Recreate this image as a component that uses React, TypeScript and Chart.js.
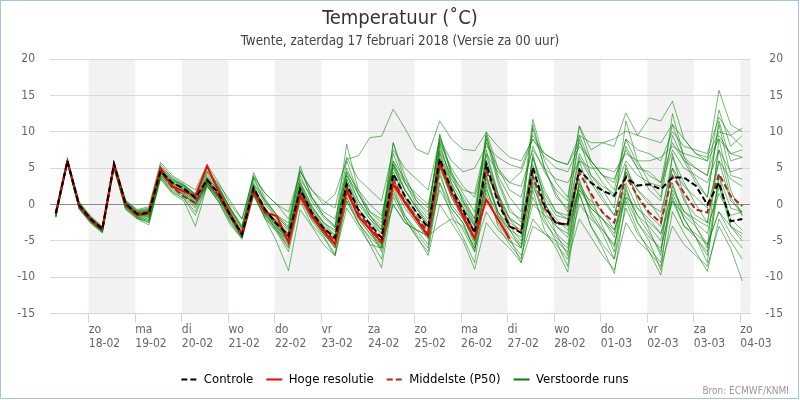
import React, { useEffect, useRef } from 'react';
import { Chart, registerables } from 'chart.js';

Chart.register(...registerables);

const FONT = '"DejaVu Sans Condensed", "DejaVu Sans", sans-serif';

// hours relative to zo 18-02 00:00 (local time)
const hours = [
  -17, -11, -5,
  1, 7, 13, 19, 25, 31, 37, 43, 49, 55, 61, 67,
  73, 79, 85, 91, 97, 103, 109, 115, 121, 127, 133, 139,
  145, 151, 157, 163, 169, 175, 181, 187, 193, 199, 205, 211,
  217, 223, 229, 235, 241, 247, 253, 259, 265, 271, 277, 283,
  289, 295, 301, 307, 313, 319, 325, 331, 337,
];

const dayNames = ['zo', 'ma', 'di', 'wo', 'do', 'vr', 'za', 'zo', 'ma', 'di', 'wo', 'do', 'vr', 'za', 'zo'];
const dayDates = ['18-02', '19-02', '20-02', '21-02', '22-02', '23-02', '24-02', '25-02', '26-02', '27-02', '28-02', '01-03', '02-03', '03-03', '04-03'];
const yTicks = [-15, -10, -5, 0, 5, 10, 15, 20];

const controle = [
  -1.2, 6.0, -0.1,
  -2.0, -3.4, 5.6, 0.1,
  -1.3, -1.2, 4.6, 3.0,
  2.2, 0.9, 3.4, 1.5,
  -1.5, -4.1, 2.3, -0.7,
  -2.7, -4.3, 2.1, -1.1,
  -3.2, -4.6, 2.8, -0.7,
  -2.7, -4.6, 4.2, 1.2,
  -1.1, -3.2, 6.3, 2.1,
  -0.7, -3.9, 5.6, 0.3,
  -3.0, -3.9, 5.1, -0.2,
  -2.6, -2.7, 4.8, 3.0,
  1.9, 1.2, 3.7, 2.6,
  2.8, 2.1, 3.7, 3.7,
  2.6, 0.0, 3.0, -2.3,
  -2.0,
];

const hogeResolutie = [
  -1.2, 6.0, 0.0,
  -2.0, -3.3, 5.6, 0.1,
  -1.5, -1.1, 5.0, 2.5,
  1.8, 1.2, 5.3, 1.8,
  -1.3, -4.1, 1.9, -1.1,
  -1.6, -5.2, 1.2, -1.6,
  -3.6, -5.5, 1.9, -1.6,
  -3.4, -5.2, 2.8, 0.3,
  -2.0, -4.3, 5.8, 1.6,
  -1.6, -4.6, 0.7, -2.0,
  -4.7,
];

const middelste = [
  -1.3, 5.9, -0.2,
  -2.2, -3.5, 5.4, -0.1,
  -1.3, -1.0, 4.6, 2.4,
  1.1, 0.2, 3.2, 1.2,
  -1.6, -4.0, 2.0, -0.9,
  -2.5, -4.4, 1.8, -1.3,
  -3.3, -5.0, 2.4, -1.2,
  -3.0, -4.9, 3.5, 0.4,
  -1.8, -3.8, 5.6, 1.6,
  -1.2, -3.6, 4.6, 1.0,
  -3.0, -3.6, 3.9, -0.5,
  -2.5, -2.7, 4.4, 1.5,
  -1.1, -2.5, 3.9, 1.2,
  -1.1, -2.5, 3.9, 1.6,
  -0.7, -1.1, 4.2, 1.2,
  -0.2,
];

const run01 = [-1.0, 6.1, 0.2, -1.8, -3.2, 5.7, 0.3, -1.0, -0.8, 4.9, 3.3, 2.5, 1.2, 4.0, 2.2, -0.8, -3.5, 3.0, 0.0, -2.0, -3.6, 3.2, -0.2, -2.4, -3.8, 4.0, 0.5, -1.6, -3.5, 5.5, 2.0, -0.3, -2.5, 7.2, 3.0, 0.2, -2.8, 6.8, 1.5, -1.8, -3.0, 6.4, 1.0, -1.5, -2.0, 6.5, 3.5, 1.0, -1.5, 5.0, 2.0, 0.5, -2.0, 6.5, 3.0, 0.0, -2.5, 7.5, 1.0, -1.5];
const run02 = [-1.5, 5.8, -0.3, -2.3, -3.6, 5.3, -0.2, -1.6, -1.8, 4.2, 2.6, 1.7, 0.3, 3.0, 1.2, -1.8, -4.5, 1.8, -1.3, -3.4, -5.2, 1.5, -1.8, -4.0, -5.6, 2.0, -1.5, -3.6, -5.8, 3.2, 0.2, -2.2, -4.5, 5.4, 1.0, -1.8, -5.0, 4.0, -1.0, -4.2, -5.8, 3.5, -1.5, -4.0, -5.5, 2.8, -1.0, -3.5, -5.8, 2.0, -1.5, -4.0, -6.5, 1.5, -2.0, -4.5, -7.0, 2.5, -3.0, -5.0];
const run03 = [-1.1, 6.0, 0.0, -1.9, -3.3, 5.5, 0.4, -0.9, -0.6, 5.2, 3.8, 2.8, 1.4, 4.6, 2.8, 0.5, -2.0, 3.8, 1.5, 0.0, -1.0, 4.5, 2.0, 0.0, 1.4, 6.2, 6.7, 9.2, 9.4, 13.1, 10.5, 7.6, 6.9, 11.5, 9.0, 7.6, 7.4, 9.9, 8.0, 6.5, 6.0, 9.0, 6.5, 5.0, 4.5, 8.0, 6.0, 4.0, 3.5, 7.5, 5.0, 4.5, 3.0, 8.5, 6.0, 5.0, 4.0, 9.5, 7.0, 6.5];
const run04 = [-1.6, 5.6, -0.5, -2.4, -3.8, 5.0, -0.5, -1.9, -2.5, 3.8, 1.8, 0.8, -1.5, 2.6, 0.5, -2.5, -4.8, 1.5, -2.0, -5.2, -9.1, -0.7, -3.0, -5.5, -7.0, 0.5, -2.5, -5.5, -8.7, 1.0, -2.0, -4.5, -6.5, 3.0, -1.5, -4.5, -8.0, 2.5, -3.0, -5.5, -7.5, 2.0, -3.5, -6.0, -9.3, 1.5, -3.0, -6.0, -9.5, 0.5, -3.5, -6.5, -9.7, -1.0, -4.0, -6.5, -9.2, -2.0, -5.0, -7.5];
const run05 = [-1.3, 5.9, -0.2, -2.1, -3.5, 5.4, 0.0, -1.1, -0.9, 4.4, 2.9, 2.3, 1.0, 3.8, 2.0, -0.5, -3.0, 2.8, 0.5, -1.5, -2.5, 3.5, 1.0, -1.0, -2.0, 4.5, 2.0, 0.0, -1.5, 5.5, 3.0, 1.5, 0.0, 7.5, 4.0, 2.0, 1.5, 8.5, 5.0, 3.0, 4.5, 9.0, 7.0, 6.0, 5.5, 9.5, 8.5, 8.5, 9.0, 10.1, 9.5, 9.0, 8.5, 11.0, 9.0, 7.0, 6.5, 10.0, 9.5, 10.5];
const run06 = [-1.4, 5.8, -0.4, -2.2, -3.6, 5.2, -0.3, -1.7, -2.0, 4.0, 2.4, 1.5, 0.0, 2.8, 1.0, -2.0, -4.4, 1.5, -1.6, -3.5, -5.5, 1.2, -1.8, -3.8, -6.0, 1.5, -1.5, -3.5, -5.0, 3.5, 0.5, -1.5, -3.5, 8.0, 3.5, 1.0, -2.0, 9.5, 4.0, 1.0, -1.0, 11.7, 6.0, 3.0, 1.0, 10.8, 7.5, 8.5, 8.0, 12.6, 9.5, 11.9, 11.5, 14.2, 9.0, 7.0, 6.0, 15.7, 11.0, 10.0];
const run07 = [-1.2, 6.1, 0.1, -2.0, -3.3, 5.6, 0.2, -1.2, -1.0, 4.7, 3.1, 2.0, 0.5, 3.6, 1.6, -1.5, -4.3, 2.6, -0.9, -3.0, -4.8, 2.4, -1.4, -3.8, -5.2, 2.2, -1.8, -4.0, -6.0, 2.0, -2.0, -4.3, -7.0, 0.0, -2.5, -5.0, -8.9, -2.5, -4.5, -6.0, -8.0, -3.0, -4.0, -5.5, -7.5, -2.0, -4.5, -7.0, -9.0, -2.5, -5.0, -6.5, -8.5, -3.0, -5.5, -7.0, -8.5, -3.0, -6.0, -10.5];
const run08 = [-1.0, 6.2, 0.3, -1.7, -3.1, 5.8, 0.5, -0.8, -0.5, 5.5, 3.6, 2.6, 1.5, 5.0, 2.5, -0.5, -3.0, 4.4, 0.8, -1.5, -3.0, 5.3, 1.0, -1.5, -3.0, 8.3, 2.0, -1.0, -2.5, 8.5, 4.0, 0.5, -1.5, 9.7, 4.5, 0.5, -2.5, 9.0, 3.0, -1.0, -2.0, 10.5, 5.0, 1.0, -0.5, 9.5, 5.5, 3.0, 1.0, 8.0, 5.0, 2.0, 0.5, 9.5, 6.0, 3.0, 1.0, 11.0, 4.0, 3.5];
const run09 = [-1.8, 5.7, -0.6, -2.6, -3.9, 5.0, -0.7, -2.0, -2.8, 3.5, 1.5, 0.5, -3.0, 2.6, 0.3, -2.8, -4.6, 1.2, -2.0, -3.8, -6.5, 0.5, -2.8, -4.5, -7.1, -0.5, -3.0, -5.5, -6.0, 0.0, -2.5, -3.5, -4.3, 2.0, -1.0, -3.5, -6.5, 1.5, -2.5, -5.0, -6.0, 0.0, -1.5, -2.5, -3.0, 2.0, 0.5, -1.0, -3.5, 1.0, -0.5, -2.0, -4.0, 0.5, -1.5, -3.0, -5.5, -1.0, -3.0, -4.0];
const run10 = [-1.3, 6.0, -0.2, -2.2, -3.5, 5.4, -0.1, -1.4, -1.1, 4.5, 2.5, 1.2, 0.1, 3.1, 1.0, -1.5, -4.0, 2.0, -1.0, -2.2, -4.0, 2.5, -0.8, -3.0, -4.5, 3.0, -0.5, -2.5, -4.0, 4.5, 1.0, -1.0, -3.0, 5.0, 2.5, -0.5, -3.0, 6.0, 1.5, -2.0, -4.0, 5.0, 0.5, -3.0, -4.0, 3.0, 0.0, -2.0, -4.0, 4.5, 1.0, -1.5, -3.0, 5.0, 0.5, -1.5, -2.5, 6.0, 0.5, -1.0];
const run11 = [-0.9, 6.2, 0.4, -1.6, -3.0, 5.9, 0.6, -0.7, -0.3, 5.8, 4.0, 3.0, 2.0, 5.5, 3.0, 0.0, -2.0, 4.0, 1.5, 0.0, -2.0, 4.5, 2.0, 0.5, -0.5, 6.5, 3.5, 2.0, 0.5, 7.5, 5.0, 3.5, 2.0, 9.0, 6.0, 4.5, 5.0, 8.0, 6.5, 5.5, 5.0, 9.5, 7.0, 6.0, 5.5, 8.5, 6.0, 4.0, 3.0, 9.0, 7.5, 7.0, 6.0, 10.0, 8.0, 7.5, 7.0, 12.0, 9.5, 8.0];
const run12 = [-1.5, 5.9, -0.3, -2.3, -3.7, 5.3, -0.3, -1.5, -1.5, 4.3, 2.8, 1.8, 0.6, 3.2, 1.4, -1.3, -4.0, 2.1, -1.0, -2.8, -4.6, 2.0, -1.5, -3.5, -5.0, 2.5, -1.0, -3.0, -5.5, 3.5, 0.0, -2.5, -4.5, 5.0, 1.0, -2.0, -4.5, 2.0, -1.5, -3.5, -5.5, 1.0, -2.5, -4.5, -6.0, 1.5, -3.0, -5.5, -7.5, -0.5, -4.0, -6.0, -8.0, 1.0, -3.0, -4.5, -6.5, 4.0, -0.5, -1.0];
const run13 = [-1.1, 6.0, 0.0, -1.9, -3.3, 5.6, 0.2, -1.2, -1.3, 4.8, 3.2, 2.4, 1.1, 3.7, 1.9, -1.0, -3.8, 2.5, -0.5, -2.5, -4.0, 2.8, -0.8, -2.8, -4.3, 3.5, 0.0, -2.0, -4.0, 5.0, 2.0, -0.5, -2.8, 7.0, 2.5, -0.3, -3.0, 6.0, 1.0, -2.0, -3.0, 6.5, 2.0, -1.0, -1.5, 7.0, 4.0, 2.5, 1.5, 6.0, 4.0, 3.0, 2.5, 7.5, 5.0, 4.0, 3.0, 7.5, 4.5, 5.0];
const run14 = [-1.2, 5.9, -0.1, -2.0, -3.5, 5.5, 0.0, -1.3, -1.4, 4.5, 2.8, 2.0, 0.7, 3.3, 1.5, -1.4, -4.2, 2.0, -0.8, -2.6, -4.3, 2.5, -0.5, -2.5, -3.5, 4.0, 1.5, -1.0, -2.0, 6.0, 3.5, 1.0, -0.5, 8.5, 5.0, 2.5, 1.0, 7.0, 4.5, 3.0, 2.5, 7.5, 5.0, 3.5, 3.0, 6.0, 5.0, 5.0, 4.5, 7.0, 6.0, 6.0, 6.5, 8.0, 7.0, 6.5, 6.0, 9.0, 7.0, 7.5];
const run15 = [-1.7, 5.7, -0.5, -2.4, -3.8, 5.1, -0.4, -1.8, -2.2, 3.8, 2.0, 1.0, -0.5, 2.8, 0.8, -2.0, -4.5, 2.0, -1.5, -3.5, -5.8, 2.5, -1.5, -4.0, -6.0, 3.5, -0.5, -3.5, -6.5, 5.5, 1.0, -2.0, -4.0, 8.5, 3.0, -1.5, -5.5, 7.5, 1.5, -3.5, -6.0, 7.0, 0.5, -4.0, -7.0, 6.0, 1.0, -3.0, -6.5, 5.5, 0.5, -3.5, -7.0, 7.0, 1.0, -3.0, -6.0, 9.0, 2.0, -1.5];
const run16 = [-1.4, 6.0, -0.2, -2.1, -3.4, 5.5, 0.0, -1.5, -1.7, 4.2, 2.4, 1.3, -0.3, 2.6, 0.8, -1.7, -4.4, 1.6, -1.4, -3.2, -5.0, 1.0, -2.0, -4.0, -5.8, 0.5, -2.5, -4.5, -6.0, 1.5, -1.5, -3.5, -5.5, 3.0, -0.5, -2.5, -6.0, 3.5, -1.0, -3.5, -4.5, 4.0, 0.0, -2.0, -3.5, 2.5, -0.5, -2.0, -4.5, 3.0, -0.5, -2.5, -4.0, 2.0, -1.0, -2.5, -4.0, 3.0, -2.0, -3.5];
const run17 = [-1.0, 6.1, 0.2, -1.8, -3.2, 5.7, 0.3, -1.1, -0.9, 5.0, 3.4, 2.6, 1.3, 4.3, 2.3, -0.7, -3.2, 3.5, 0.3, -1.8, -3.2, 4.0, 0.5, -1.8, -3.2, 5.0, 1.5, -1.5, -3.0, 7.0, 3.0, 0.5, -1.0, 9.0, 4.5, 1.5, -1.0, 10.0, 5.0, 2.0, 1.0, 8.0, 4.5, 2.0, 0.5, 10.8, 6.0, 4.0, 2.0, 9.0, 5.5, 4.0, 3.0, 11.0, 6.5, 5.0, 4.0, 13.0, 8.0, 9.5];
const run18 = [-1.6, 5.8, -0.4, -2.3, -3.6, 5.2, -0.2, -1.7, -2.2, 4.0, 2.2, 1.4, 0.0, 3.0, 0.9, -1.8, -4.3, 1.8, -1.2, -3.0, -4.8, 1.5, -1.5, -3.5, -5.5, 1.0, -2.0, -4.0, -5.5, 0.0, -2.5, -3.5, -4.3, -3.0, -2.0, -3.0, -6.0, -1.0, -3.5, -5.0, -7.0, -2.0, -4.0, -5.0, -6.5, 0.0, -2.0, -3.5, -5.5, 1.0, -2.5, -4.5, -6.0, 0.5, -3.0, -4.0, -5.5, -1.0, -4.0, -6.0];
const run19 = [-1.2, 6.0, -0.1, -2.0, -3.4, 5.6, 0.1, -1.2, -1.3, 4.6, 3.0, 2.1, 0.8, 3.5, 1.7, -1.2, -3.9, 2.4, -0.7, -2.4, -4.1, 3.0, -0.3, -2.5, -4.2, 4.5, 0.5, -2.0, -3.5, 6.0, 2.0, -0.5, -3.0, 6.5, 2.0, -1.0, -4.0, 5.0, 0.5, -2.5, -3.5, 5.5, 1.5, -1.0, -2.0, 5.0, 3.0, 0.5, -1.5, 4.5, 2.0, 0.0, -1.0, 5.0, 2.5, 1.0, -0.5, 6.0, 3.5, 2.5];
const run20 = [-1.7, 5.7, -0.6, -2.5, -3.8, 5.0, -0.6, -1.9, -2.4, 3.6, 1.7, 0.8, -1.0, 2.5, 0.4, -2.3, -4.6, 1.3, -1.8, -3.7, -6.0, 0.8, -2.2, -4.3, -6.8, 1.0, -2.5, -4.8, -7.5, 2.5, -1.5, -4.0, -6.0, 4.5, -0.5, -2.5, -6.5, 4.0, -1.5, -4.5, -8.0, 3.0, -2.0, -5.0, -8.5, 3.5, -1.5, -4.0, -7.5, 2.5, -2.5, -5.0, -9.0, 3.0, -2.0, -4.5, -8.0, 4.0, -3.0, -4.5];
const run21 = [-1.1, 6.1, 0.1, -1.9, -3.2, 5.7, 0.3, -1.0, -0.7, 5.1, 3.5, 2.7, 1.3, 4.5, 2.4, -0.6, -3.3, 3.7, 0.5, -1.5, -3.4, 4.8, 1.0, -1.5, -3.0, 6.0, 1.5, -1.5, -3.5, 8.5, 3.0, 0.0, -2.0, 9.5, 4.0, 0.5, -2.0, 9.5, 3.5, -0.5, -2.5, 11.0, 5.0, 1.5, -1.0, 9.0, 4.0, 2.0, -0.5, 11.5, 6.0, 3.0, 1.0, 12.5, 6.5, 3.5, 1.0, 11.5, 6.0, 6.5];
const run22 = [-1.3, 5.9, -0.3, -2.1, -3.5, 5.4, -0.1, -1.4, -1.6, 4.4, 2.7, 1.6, 0.3, 3.0, 1.1, -1.6, -4.2, 1.9, -1.2, -3.0, -5.2, 1.6, -1.7, -3.6, -5.4, 1.8, -1.6, -3.4, -5.2, 2.8, -0.5, -2.5, -4.8, 4.0, 0.0, -2.0, -5.0, 3.0, -1.0, -3.0, -5.0, 2.5, -1.0, -3.0, -4.5, 2.0, -0.5, -2.0, -3.5, 1.5, -1.5, -3.0, -5.0, 2.5, -1.0, -2.0, -3.0, 1.5, -1.5, -1.0];

const runs = [run01, run02, run03, run04, run05, run06, run07, run08, run09, run10, run11, run12, run13, run14, run15, run16, run17, run18, run19, run20, run21, run22];

const toXY = (vals: number[]) => vals.map((y, i) => ({ x: hours[i], y }));

const sheetPlugin = {
  id: 'sheet',
  afterLayout(chart: any) {
    // the source legend sits a few pixels right of centre
    if (chart.legend) {
      chart.legend.left += 5;
      chart.legend.right += 5;
    }
  },
  beforeDraw(chart: any) {
    const { ctx, chartArea, scales } = chart;
    const xs = scales.x;
    ctx.save();
    ctx.fillStyle = '#ffffff';
    ctx.fillRect(0, 0, chart.width, chart.height);
    ctx.fillStyle = '#f2f2f2';
    for (let k = 0; k < dayDates.length; k += 2) {
      const x0 = Math.max(xs.getPixelForValue(k * 24), chartArea.left);
      const x1 = Math.min(xs.getPixelForValue(k * 24 + 24), chartArea.right);
      if (x1 > x0) ctx.fillRect(x0, chartArea.top, x1 - x0, chartArea.bottom - chartArea.top);
    }
    ctx.restore();
  },
  afterDraw(chart: any) {
    const { ctx } = chart;
    ctx.save();
    ctx.font = '10px ' + FONT;
    ctx.fillStyle = '#999999';
    ctx.textAlign = 'right';
    ctx.textBaseline = 'middle';
    ctx.fillText('Bron: ECMWF/KNMI', 789, 391);
    ctx.strokeStyle = '#a3c3ea';
    ctx.lineWidth = 1;
    ctx.strokeRect(0.5, 0.5, 798, 398);
    ctx.restore();
  },
};

export default function App() {
  const ref = useRef<HTMLCanvasElement>(null);
  useEffect(() => {
    document.body.style.margin = '0';
    Chart.defaults.font.family = FONT;
    const datasets: any[] = [
      { label: 'Controle', data: toXY(controle), borderColor: '#000000', borderWidth: 2, borderDash: [6, 3] },
      { label: 'Hoge resolutie', data: toXY(hogeResolutie), borderColor: '#ff0000', borderWidth: 2 },
      { label: 'Middelste (P50)', data: toXY(middelste), borderColor: '#b22222', borderWidth: 2, borderDash: [6, 3] },
      ...runs.map((r, i) => ({
        label: i === 0 ? 'Verstoorde runs' : '',
        data: toXY(r),
        borderColor: 'rgba(0,128,0,0.55)',
        borderWidth: 1,
      })),
    ];
    datasets.forEach((d) => {
      d.pointRadius = 0;
      d.pointHoverRadius = 0;
      d.tension = 0;
      d.fill = false;
    });
    const chart = new Chart(ref.current as HTMLCanvasElement, {
      type: 'line',
      data: { datasets },
      plugins: [sheetPlugin],
      options: {
        responsive: false,
        animation: false,
        events: [],
        layout: { padding: { top: 0, bottom: 4, left: 17, right: 17 } },
        plugins: {
          tooltip: { enabled: false },
          title: {
            display: true,
            text: 'Temperatuur (˚C)',
            color: '#333333',
            font: { size: 20, weight: 'normal', family: FONT },
            padding: { top: 7, bottom: 2 },
          },
          subtitle: {
            display: true,
            text: 'Twente, zaterdag 17 februari 2018 (Versie za 00 uur)',
            color: '#444444',
            font: { size: 13.4, weight: 'normal', family: FONT },
            padding: { top: 0, bottom: 10 },
          },
          legend: {
            position: 'bottom',
            labels: {
              usePointStyle: true,
              pointStyleWidth: 16,
              padding: 13,
              color: '#333333',
              font: { size: 13, family: FONT },
              generateLabels: () => [
                { text: 'Controle', strokeStyle: '#000000', fillStyle: '#000000', lineWidth: 2, lineDash: [6, 3], pointStyle: 'line', hidden: false, datasetIndex: 0 },
                { text: 'Hoge resolutie', strokeStyle: '#ff0000', fillStyle: '#ff0000', lineWidth: 2, lineDash: [], pointStyle: 'line', hidden: false, datasetIndex: 1 },
                { text: 'Middelste (P50)', strokeStyle: '#b22222', fillStyle: '#b22222', lineWidth: 2, lineDash: [6, 3], pointStyle: 'line', hidden: false, datasetIndex: 2 },
                { text: 'Verstoorde runs', strokeStyle: '#008000', fillStyle: '#008000', lineWidth: 2, lineDash: [], pointStyle: 'line', hidden: false, datasetIndex: 3 },
              ],
            },
          },
        },
        scales: {
          x: {
            type: 'linear',
            min: -20,
            max: 341,
            afterBuildTicks: (axis: any) => {
              axis.ticks = dayDates.map((_, k) => ({ value: k * 24 }));
            },
            afterFit: (s: any) => { s.height = s.height + 9; },
            ticks: {
              autoSkip: false,
              maxRotation: 0,
              minRotation: 0,
              align: 'start',
              padding: 1,
              color: '#666666',
              font: { size: 12, lineHeight: 1.1, family: FONT },
              callback: (_v: any, i: number) => [dayNames[i], dayDates[i]],
            },
            grid: { drawOnChartArea: false, drawTicks: true, tickLength: 9, color: '#ccd6eb' },
            border: { color: '#ccd6eb' },
          },
          y: {
            position: 'left',
            min: -15,
            max: 20,
            afterBuildTicks: (axis: any) => {
              axis.ticks = yTicks.map((v) => ({ value: v }));
            },
            afterFit: (s: any) => { s.width = 33; },
            ticks: { color: '#666666', padding: 15, font: { size: 12, family: FONT } },
            grid: {
              drawTicks: false,
              color: (c: any) => (c.tick && c.tick.value === 0 ? '#8c8c8c' : '#d8d8d8'),
            },
            border: { display: false },
          },
          y2: {
            position: 'right',
            min: -15,
            max: 20,
            afterBuildTicks: (axis: any) => {
              axis.ticks = yTicks.map((v) => ({ value: v }));
            },
            afterFit: (s: any) => { s.width = 33; },
            ticks: { color: '#666666', padding: 14, crossAlign: 'far', font: { size: 12, family: FONT } },
            grid: { drawOnChartArea: false, drawTicks: false },
            border: { display: false },
          },
        },
      },
    } as any);
    return () => chart.destroy();
  }, []);
  return (
    <div style={{ position: 'absolute', left: 0, top: 0, width: 800, height: 400 }}>
      <canvas ref={ref} width={800} height={400} style={{ display: 'block' }} />
    </div>
  );
}
